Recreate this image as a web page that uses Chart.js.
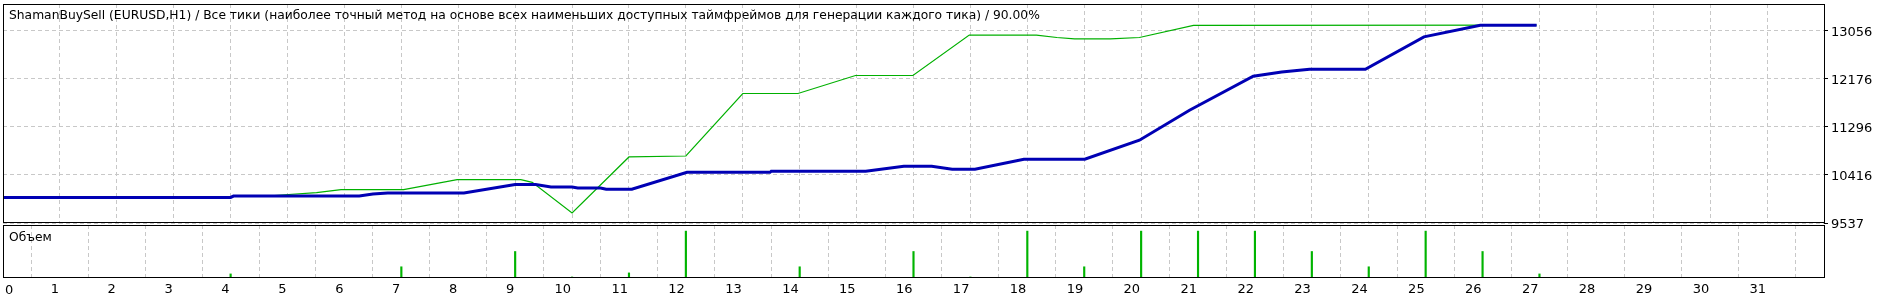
<!DOCTYPE html>
<html>
<head>
<meta charset="utf-8">
<script src="https://cdn.jsdelivr.net/npm/chart.js@4/dist/chart.umd.min.js"></script>
<style>
html, body { margin: 0; padding: 0; background: #fff; }
#wrap { position: relative; width: 1889px; height: 300px; overflow: hidden; }
canvas { position: absolute; left: 0; top: 0; }
</style>
</head>
<body>
<div id="wrap">
  <canvas id="mainCanvas" width="1889" height="300"></canvas>
  <canvas id="volCanvas" width="1889" height="300"></canvas>
</div>
<script>
const titulo = 'ShamanBuySell (EURUSD,H1) / Все тики (наиболее точный метод на основе всех наименьших доступных таймфреймов для генерации каждого тика) / 90.00%';
const etiquetaVolumen = 'Объем';

const xTicks = [0, 1, 2, 3, 4, 5, 6, 7, 8, 9, 10, 11, 12, 13, 14, 15, 16, 17, 18, 19, 20, 21, 22, 23, 24, 25, 26, 27, 28, 29, 30, 31];
const yTicks = [9537, 10416, 11296, 12176, 13056];

// balance (blue)
const balanceX = [0, 4.0, 4.05, 6.26, 6.5, 6.76, 8.1, 9.0, 9.36, 9.63, 10.0, 10.1, 10.5, 10.6, 11.05, 12.02, 13.48, 13.5, 15.16, 15.83, 16.32, 16.68, 17.08, 17.94, 19.01, 19.97, 20.85, 21.97, 22.47, 22.96, 23.94, 24.97, 25.96, 26.95];
const balanceY = [10005, 10005, 10030, 10030, 10067, 10086, 10086, 10239, 10239, 10195, 10195, 10177, 10177, 10153, 10153, 10464, 10464, 10483, 10483, 10574, 10574, 10519, 10519, 10702, 10702, 11050, 11598, 12220, 12299, 12348, 12348, 12939, 13153, 13153];

// equity (green)
const equityX = [0, 4.0, 4.05, 4.77, 5.51, 5.94, 7.04, 7.98, 9.1, 9.3, 10.0, 11.0, 12.0, 13.0, 13.97, 14.98, 15.99, 16.98, 18.16, 18.52, 18.83, 19.46, 19.97, 20.92, 26.95];
const equityY = [10005, 10005, 10030, 10040, 10093, 10148, 10148, 10329, 10329, 10280, 9720, 10744, 10762, 11904, 11904, 12233, 12233, 12971, 12971, 12928, 12903, 12903, 12928, 13150, 13153];

// volumen
const volX = [4, 7, 9, 10, 11, 12, 14, 16, 17, 18, 19, 20, 21, 22, 23, 24, 25, 26, 27];
const volY = [0.04, 0.11, 0.26, 0.01, 0.05, 0.46, 0.11, 0.26, 0.01, 0.46, 0.11, 0.46, 0.46, 0.46, 0.26, 0.11, 0.46, 0.26, 0.04];

const fuente = '"DejaVu Sans", sans-serif';
const colorGrid = '#c8c8c8';

function puntos(xs, ys) {
    return xs.map((x, i) => ({ x: x, y: ys[i] }));
}

function sinRelleno(s) {
    s.paddingTop = 0; s.paddingBottom = 0; s.paddingLeft = 0; s.paddingRight = 0;
}

const marco = {
    id: 'marco',
    afterDraw(chart) {
        const a = chart.chartArea, ctx = chart.ctx;
        const op = chart.options.plugins.marco;
        ctx.save();
        ctx.strokeStyle = '#000';
        ctx.lineWidth = 1;
        ctx.strokeRect(a.left + 0.5, a.top + 0.5, a.right - a.left, a.bottom - a.top - 1);
        if (op.texto) {
            ctx.fillStyle = '#000';
            ctx.font = op.tam + 'px ' + fuente;
            ctx.textBaseline = 'middle';
            ctx.textAlign = 'left';
            ctx.fillText(op.texto, a.left + 6, a.top + op.textoY);
        }
        // first x label sits right of the axis start, like in the terminal
        if (op.cero) {
            const xs = chart.scales.x;
            ctx.font = '13px ' + fuente;
            ctx.textBaseline = 'top';
            ctx.textAlign = 'left';
            ctx.fillText(String(xTicks[0]), xs.getPixelForValue(xTicks[0]) + 2, a.bottom + 6);
        }
        ctx.restore();
    }
};

const ejeX = (conEtiquetas) => ({
    type: 'linear',
    min: 0,
    max: 32,
    offset: false,
    afterBuildTicks: s => { s.ticks = xTicks.map(v => ({ value: v })); },
    afterFit: s => { s.height = conEtiquetas ? 22 : 0; sinRelleno(s); },
    ticks: {
        display: conEtiquetas,
        autoSkip: false,
        maxRotation: 0,
        align: 'end',
        labelOffset: -1,
        padding: 4,
        color: '#000',
        font: { family: fuente, size: 13 },
        callback: v => (v === xTicks[0] ? '' : String(v))
    },
    grid: { color: colorGrid, lineWidth: 1, drawTicks: false },
    border: { display: false, dash: [4, 3] }
});

new Chart(document.getElementById('mainCanvas'), {
    type: 'line',
    data: {
        datasets: [
            { label: 'Balance', data: puntos(balanceX, balanceY), borderColor: '#0000b4', borderWidth: 3, pointRadius: 0, tension: 0, order: 0 },
            { label: 'Equity', data: puntos(equityX, equityY), borderColor: '#00b000', borderWidth: 1.2, pointRadius: 0, tension: 0, order: 1 }
        ]
    },
    options: {
        responsive: false,
        animation: false,
        layout: { padding: { left: 3, top: 4, right: 0, bottom: 77 } },
        scales: {
            x: ejeX(false),
            y: {
                type: 'linear',
                position: 'right',
                min: 9537,
                max: 13540,
                afterBuildTicks: s => { s.ticks = yTicks.map(v => ({ value: v })); },
                afterFit: s => { s.width = 65; sinRelleno(s); },
                ticks: { color: '#000', padding: 3, labelOffset: 2, font: { family: fuente, size: 13 }, callback: v => String(v) },
                grid: { color: colorGrid, lineWidth: 1, drawTicks: true, tickLength: 4, tickColor: '#000', tickBorderDash: [] },
                border: { display: false, dash: [4, 3] }
            }
        },
        plugins: {
            legend: { display: false },
            tooltip: { enabled: false },
            marco: { texto: titulo, textoY: 12, tam: 12.3 }
        }
    },
    plugins: [marco]
});

new Chart(document.getElementById('volCanvas'), {
    type: 'bar',
    data: {
        datasets: [
            { label: etiquetaVolumen, data: puntos(volX, volY), backgroundColor: '#00b400', barThickness: 1.5, grouped: false }
        ]
    },
    options: {
        responsive: false,
        animation: false,
        layout: { padding: { left: 3, top: 225, right: 0, bottom: 0 } },
        scales: {
            x: ejeX(true),
            y: {
                type: 'linear',
                position: 'right',
                min: 0,
                max: 0.52,
                afterFit: s => { s.width = 65; sinRelleno(s); },
                ticks: { display: false },
                grid: { display: false },
                border: { display: false }
            }
        },
        plugins: {
            legend: { display: false },
            tooltip: { enabled: false },
            marco: { texto: etiquetaVolumen, textoY: 13, tam: 12.3, cero: true }
        }
    },
    plugins: [marco]
});
</script>
</body>
</html>
